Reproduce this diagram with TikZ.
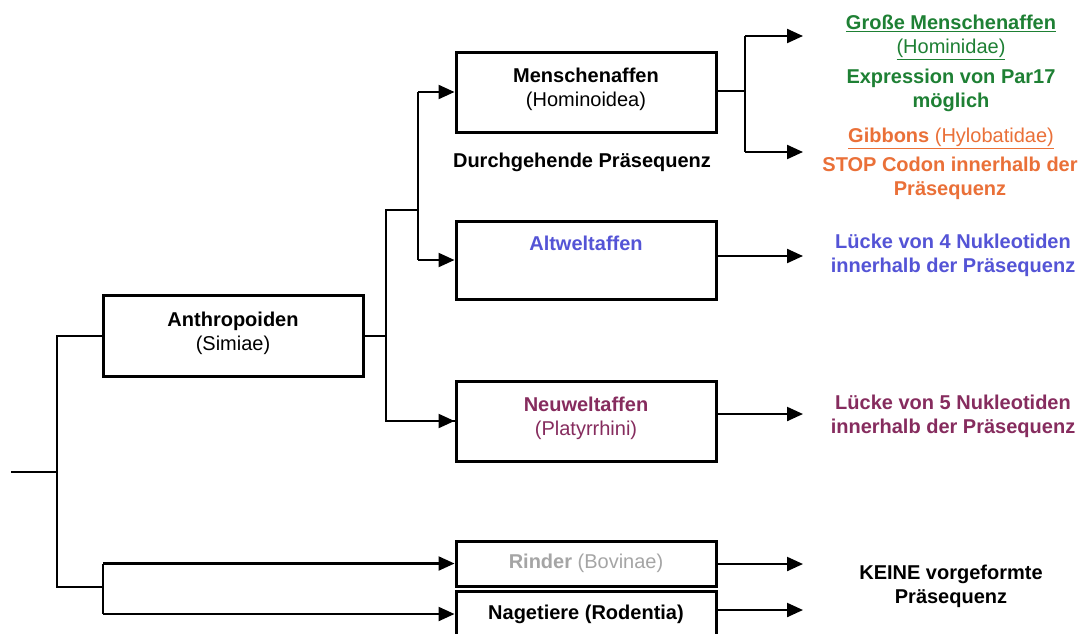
\documentclass[tikz,border=0pt]{standalone}
\usepackage{fontspec}
\setmainfont{Liberation Sans}
\usetikzlibrary{arrows.meta}
\definecolor{cgreen}{RGB}{30,128,52}
\definecolor{corange}{RGB}{234,112,56}
\definecolor{cblue}{RGB}{84,84,214}
\definecolor{cmaroon}{RGB}{134,44,94}
\definecolor{cgray}{RGB}{165,165,165}
\newcommand\lowdn{\rule[-10pt]{0pt}{0pt}}
\tikzset{
  box/.style={draw=black, line width=3pt, minimum width=260pt, align=center, inner sep=0pt},
  conn/.style={line width=2.2pt, line join=miter},
  arr/.style={conn, -{Triangle[length=16pt,width=14pt]}},
  txt/.style={align=center, inner sep=0pt}
}
\begin{document}
\begin{tikzpicture}[x=1pt,y=-1pt, font=\fontsize{20}{24}\selectfont]
\clip (0,0) rectangle (1083,633);
\fill[white] (0,0) rectangle (1083,633);

% boxes
\node[box, minimum width=260pt, minimum height=81pt] (anthro) at (233,336) {\textbf{Anthropoiden}\\(Simiae)\lowdn};
\node[box, minimum height=80pt] (mensch) at (586,92) {\textbf{Menschenaffen}\\(Hominoidea)\lowdn};
\node[box, minimum height=78pt, text=cblue] (alt) at (586,260) {\textbf{Altweltaffen}\\[10pt]\mbox{}};
\node[box, minimum height=80pt, text=cmaroon] (neu) at (586,421) {\textbf{Neuweltaffen}\\(Platyrrhini)\lowdn};
\node[box, minimum height=45pt, text=cgray] (rind) at (586,563.5) {\textbf{Rinder} (Bovinae)};
\node[box, minimum height=46pt] (nage) at (586,614) {\textbf{Nagetiere (Rodentia)}};

\node[txt] (durch) at (582,162) {\textbf{Durchgehende Präsequenz}};

% right texts
\node[txt, text=cgreen] (homt) at (951,37) {\underline{\textbf{Große Menschenaffen}}\\\underline{(Hominidae)}};
\node[txt, text=cgreen] (homd) at (951,90) {\textbf{Expression von Par17}\\\textbf{möglich}};
\node[txt, text=corange] (gibt) at (951,138) {\underline{\textbf{Gibbons} (Hylobatidae)}};
\node[txt, text=corange] (gibd) at (950,178) {\textbf{STOP Codon innerhalb der}\\\textbf{Präsequenz}};
\node[txt, text=cblue] (altd) at (953,255) {\textbf{Lücke von 4 Nukleotiden}\\\textbf{innerhalb der Präsequenz}};
\node[txt, text=cmaroon] (neud) at (953,416) {\textbf{Lücke von 5 Nukleotiden}\\\textbf{innerhalb der Präsequenz}};
\node[txt] (kein) at (951,586) {\textbf{KEINE vorgeformte}\\\textbf{Präsequenz}};

% junctions
\coordinate (root) at (11,472);
\coordinate (r0) at (57,472);
\coordinate (j1) at (386,336);
\coordinate (j2) at (418,210);
\coordinate (j3) at (745,91);
\coordinate (j4) at (103,587);
\coordinate (a1) at (803,36);
\coordinate (a2) at (803,152);
\coordinate (a3) at (803,256);
\coordinate (a4) at (803,414);
\coordinate (a5) at (803,564);
\coordinate (a6) at (803,610);

% root tree
\draw[conn] (root) -- (r0);
\draw[conn] (anthro.west) -| (r0) |- (j4);
\draw[conn] (j4 |- rind.west) -- (j4 |- nage.west);
\draw[arr] (j4 |- rind.west) -- (rind.west);
\draw[arr] (j4 |- nage.west) -- (nage.west);

% anthropoid branch
\draw[conn] (anthro.east) -- (j1);
\draw[conn] (j2) -| (j1 |- j2) -- (j1) |- (neu.west);
\draw[arr] (j1 |- neu.west) -- (neu.west);
\draw[conn] (j2 |- mensch.west) -- (j2 |- alt.west);
\draw[arr] (j2 |- mensch.west) -- (mensch.west);
\draw[arr] (j2 |- alt.west) -- (alt.west);

% menschenaffen split
\draw[conn] (mensch.east |- j3) -- (j3);
\draw[conn] (j3 |- a1) -- (j3 |- a2);
\draw[arr] (j3 |- a1) -- (a1);
\draw[arr] (j3 |- a2) -- (a2);

% outputs
\draw[arr] (alt.east |- a3) -- (a3);
\draw[arr] (neu.east |- a4) -- (a4);
\draw[arr] (rind.east |- a5) -- (a5);
\draw[arr] (nage.east |- a6) -- (a6);
\end{tikzpicture}
\end{document}
